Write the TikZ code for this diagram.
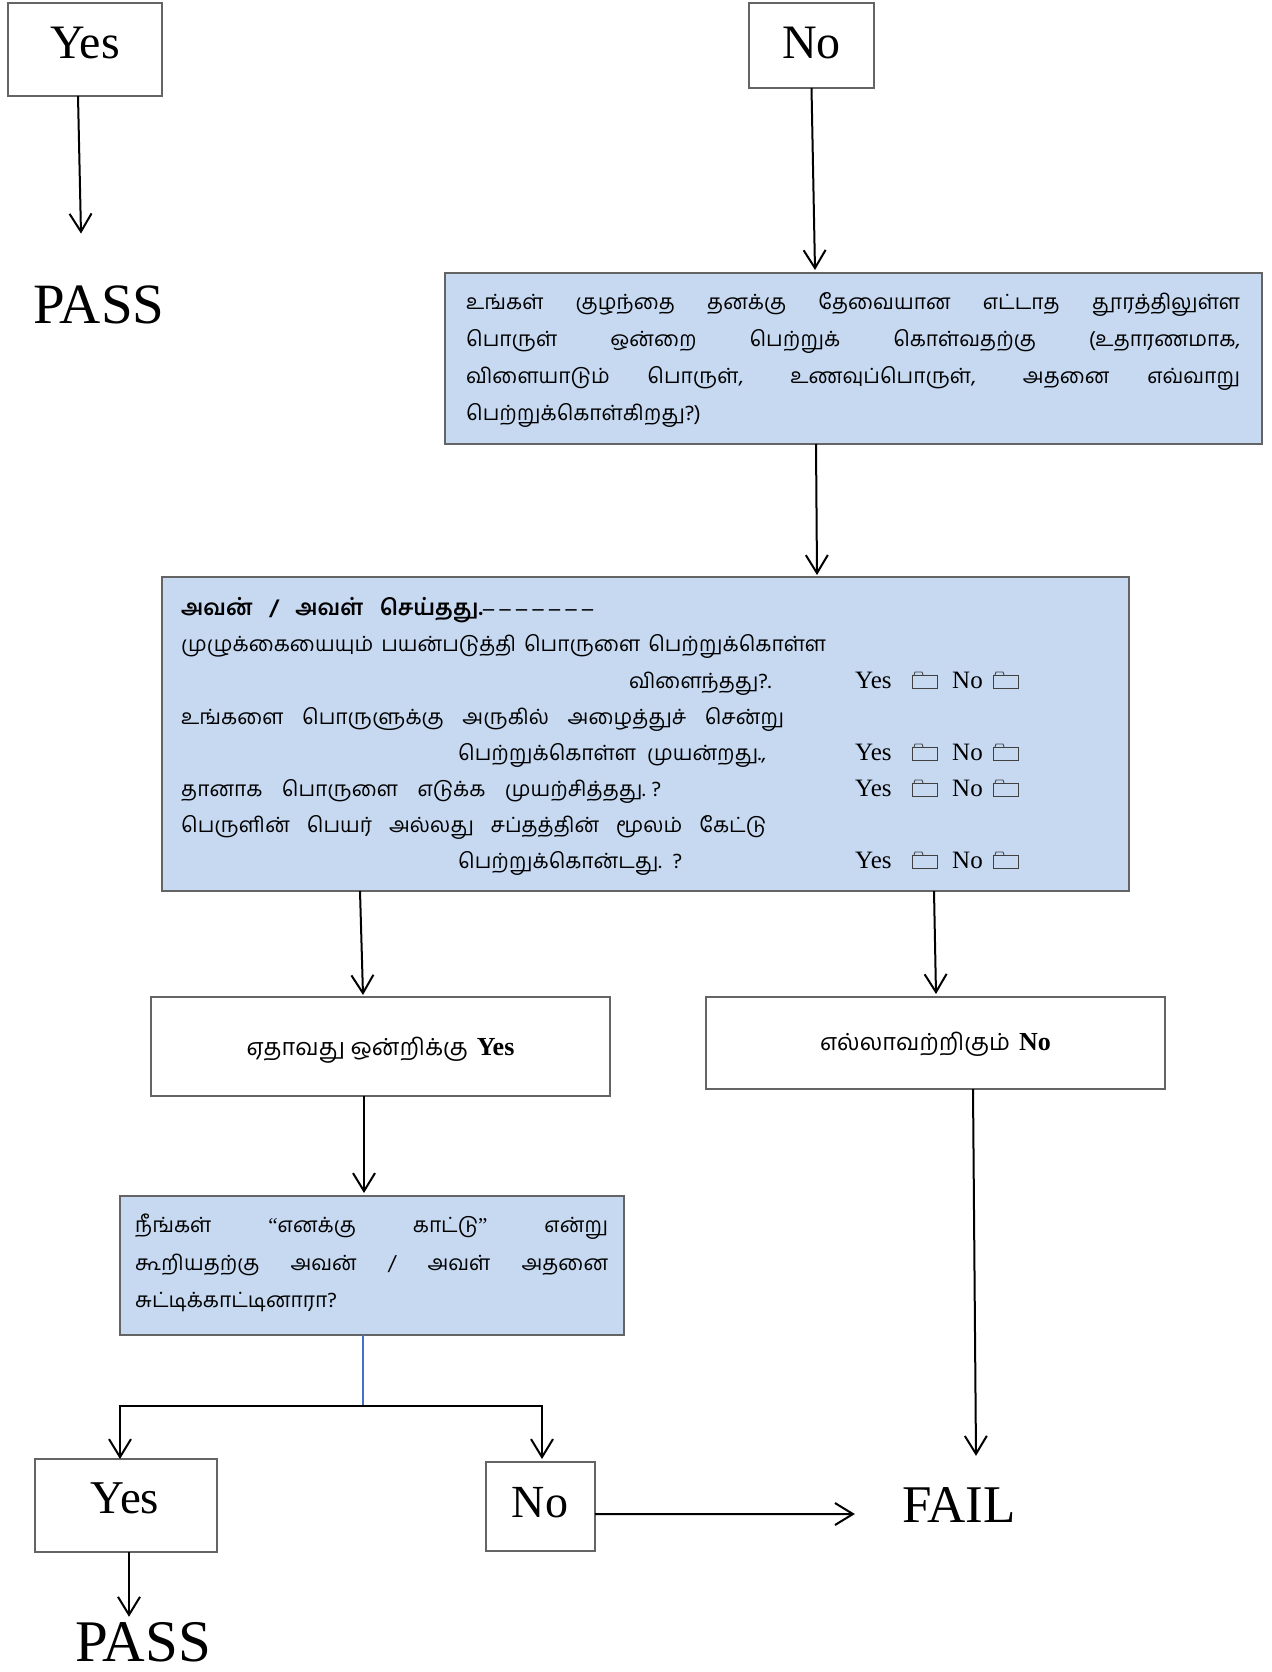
\documentclass[tikz,border=0pt]{standalone}
\usepackage{fontspec}
\setmainfont{Liberation Serif}
\newfontfamily\ta[Script=Tamil]{Hind Madurai}
\usetikzlibrary{arrows.meta,calc}
\definecolor{boxblue}{HTML}{C6D9F1}
\definecolor{edgegray}{HTML}{646464}
\definecolor{linkblue}{HTML}{4472C4}
\newcommand{\jl}[2]{\hbox to #1{\spaceskip=0pt plus 1fil\relax #2}}
\newcommand{\dashrun}{{\rmfamily\bfseries –\kern5.5pt–\kern5.5pt–\kern5.5pt–\kern5.5pt–\kern5.5pt–\kern5.5pt–}}
\begin{document}
\begin{tikzpicture}[x=1pt,y=-1pt,
  wbox/.style={draw=edgegray, line width=2.5pt, fill=white, inner sep=0pt, outer sep=0pt, anchor=north west},
  bbox/.style={wbox, fill=boxblue},
  arr/.style={line width=2pt, -{Straight Barb[length=18pt,width=22pt]}},
  big/.style={inner sep=0pt, anchor=base, font=\fontsize{#1}{#1}\selectfont},
  tl/.style={inner sep=0pt, anchor=base west, font=\ta\fontsize{21}{26}\selectfont},
  yn/.style={inner sep=0pt, anchor=base west, font=\fontsize{25}{25}\selectfont},
  fold/.style={draw=black!75, line width=0.9pt}]
\useasboundingbox (0,0) rectangle (1271,1672);
\fill[white] (0,0) rectangle (1271,1672);

% boxes
\node[wbox, minimum width=154pt, minimum height=93pt] (yesTop) at (8,3) {};
\node[wbox, minimum width=125pt, minimum height=85pt] (noTop) at (749,3) {};
\node[bbox, minimum width=817pt, minimum height=171pt] (box1) at (445,273) {};
\node[bbox, minimum width=967pt, minimum height=314pt] (box2) at (162,577) {};
\node[wbox, minimum width=459pt, minimum height=99pt] (yesAny) at (151,997) {};
\node[wbox, minimum width=459pt, minimum height=92pt] (noAll) at (706,997) {};
\node[bbox, minimum width=504pt, minimum height=139pt] (box3) at (120,1196) {};
\node[wbox, minimum width=182pt, minimum height=93pt] (yesBot) at (35,1459) {};
\node[wbox, minimum width=109pt, minimum height=89pt] (noBot) at (486,1462) {};

% big labels
\node[big=48] (yesTopT) at (85,59) {Yes};
\node[big=48] (noTopT) at (811.5,59) {No};
\node[big=57] (pass1) at (99,323) {PASS};
\node[big=47] (yesBotT) at (125,1513) {Yes};
\node[big=46] (noBotT) at (540,1517) {No};
\node[big=53] (fail) at (959,1522) {FAIL};
\node[big=59] (pass2) at (143,1661) {PASS};

% box 1 text
\node[tl] (b1a) at (466,309) {\jl{774pt}{உங்கள் குழந்தை தனக்கு தேவையான எட்டாத தூரத்திலுள்ள}};
\node[tl] (b1b) at (466,346) {\jl{774pt}{பொருள் ஒன்றை பெற்றுக் கொள்வதற்கு (உதாரணமாக,}};
\node[tl] (b1c) at (466,383) {\jl{774pt}{விளையாடும் பொருள், உணவுப்பொருள், அதனை எவ்வாறு}};
\node[tl] (b1d) at (466,420) {பெற்றுக்கொள்கிறது?)};

% box 2 text
\node[tl, font=\ta\bfseries\fontsize{22}{26}\selectfont] (b2h) at (181,615) {\jl{302pt}{அவன் / அவள் செய்தது.}\dashrun};
\node[tl] (b2a) at (181,651) {\jl{645pt}{முழுக்கையையும் பயன்படுத்தி பொருளை பெற்றுக்கொள்ள}};
\node[tl] (b2b) at (629,688) {விளைந்தது?.};
\node[tl] (b2c) at (181,724) {\jl{603pt}{உங்களை பொருளுக்கு அருகில் அழைத்துச் சென்று}};
\node[tl] (b2d) at (458,760) {\jl{308pt}{பெற்றுக்கொள்ள முயன்றது.,}};
\node[tl] (b2e) at (181,796) {\jl{480pt}{தானாக பொருளை எடுக்க முயற்சித்தது.\kern6pt?}};
\node[tl] (b2f) at (181,832) {\jl{585pt}{பெருளின் பெயர் அல்லது சப்தத்தின் மூலம் கேட்டு}};
\node[tl] (b2g) at (458,868) {\jl{224pt}{பெற்றுக்கொன்டது. ?}};
\foreach \b/\n in {688/1,760/2,796/3,868/4}{
  \node[yn] (yes\n) at (855,\b) {Yes};
  \node[yn] (no\n) at (952,\b) {No};
  \foreach \fx in {912,993}{
    \draw[fold] (\fx,\b-13) rectangle (\fx+25,\b);
    \draw[fold] (\fx+2,\b-13) -- (\fx+3,\b-16) -- (\fx+10,\b-16) -- (\fx+11,\b-13);
  }
}

% middle boxes text
\node[inner sep=0pt, anchor=base, font=\ta\fontsize{23.5}{28}\selectfont] (yesAnyT) at (380.5,1055) {ஏதாவது ஒன்றிக்கு\kern9pt{\rmfamily\bfseries\fontsize{26}{26}\selectfont Yes}};
\node[inner sep=0pt, anchor=base, font=\ta\fontsize{23.5}{28}\selectfont] (noAllT) at (935.5,1050) {எல்லாவற்றிகும்\kern9pt{\rmfamily\bfseries\fontsize{26}{26}\selectfont No}};

% box 3 text
\node[tl] (b3a) at (135,1232) {\jl{473pt}{நீங்கள் {\rmfamily “}எனக்கு காட்டு{\rmfamily ”} என்று}};
\node[tl] (b3b) at (135,1270) {\jl{473pt}{கூறியதற்கு அவன் / அவள் அதனை}};
\node[tl] (b3c) at (135,1307) {சுட்டிக்காட்டினாரா?};

% connectors
\draw[arr] ($(yesTop.south)+(-7,0)$) -- ($(pass1.north)+(-18,-51.5)$);
\draw[arr] (noTop.south) -- ($(box1.north)+(-38.5,-3)$);
\draw[arr] ($(box1.south)+(-37.5,0)$) -- ($(box2.north)+(171.5,-2)$);
\draw[arr] ($(box2.south)+(-285.5,0)$) -- ($(yesAny.north)+(-17.5,-2)$);
\draw[arr] ($(box2.south)+(288.5,0)$) -- ($(noAll.north)+(0.5,-3)$);
\draw[arr] ($(yesAny.south)+(-16.5,0)$) -- ($(box3.north)+(-8,-3)$);
\coordinate (br) at (363,1406);
\draw[linkblue, line width=1.3pt] ($(box3.south)+(-9,0)$) -- (br);
\draw[arr] (br) -| ($(yesBot.north)+(-6,0)$);
\draw[arr] (br) -| ($(noBot.north)+(1.5,-3)$);
\draw[arr] ($(noBot.east)+(0,7.5)$) -- ($(fail.west)+(-47,9.5)$);
\draw[arr] ($(noAll.south)+(37.5,0)$) -- ($(fail.north)+(17,-31)$);
\draw[arr] ($(yesBot.south)+(3,0)$) -- ($(pass2.north)+(-14,-5)$);
\end{tikzpicture}
\end{document}
